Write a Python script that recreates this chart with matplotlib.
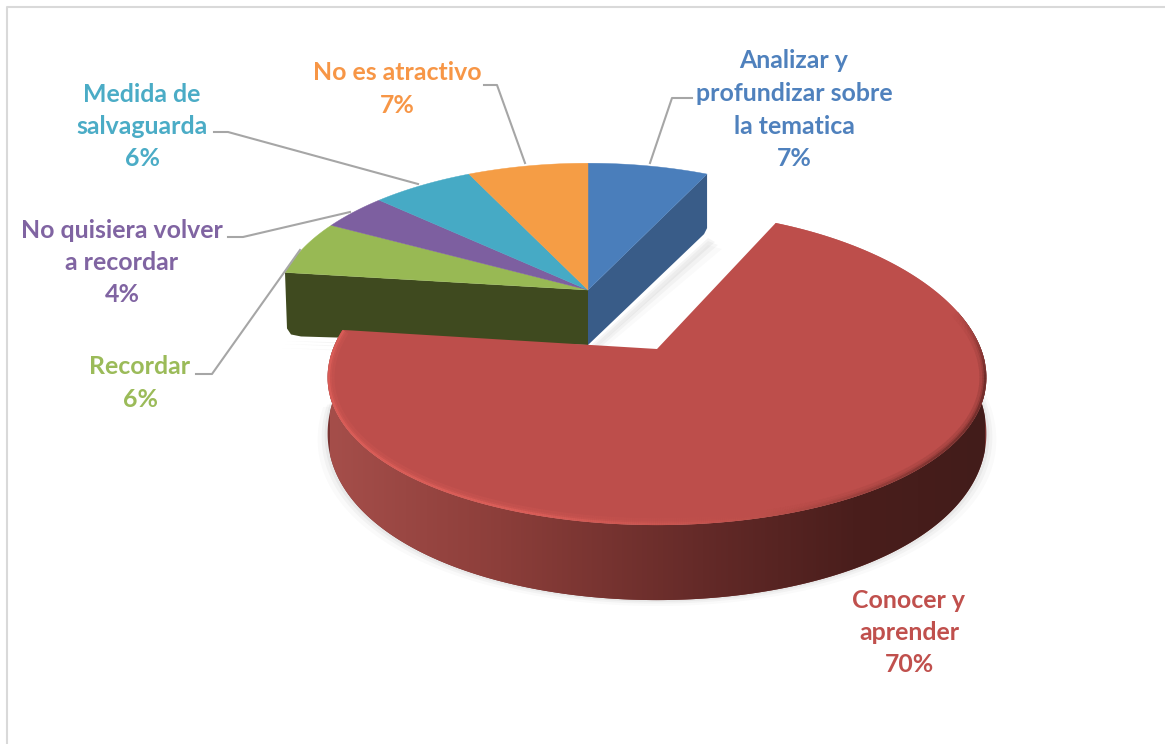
#!/usr/bin/env python3

import matplotlib
matplotlib.use("Agg")
import matplotlib.pyplot as plt
import numpy as np
from matplotlib.collections import LineCollection
from matplotlib.colors import LinearSegmentedColormap

labels = [
    ["Analizar y", "profundizar sobre", "la tematica"],
    ["Conocer y", "aprender"],
    ["Recordar"],
    ["No quisiera volver", "a recordar"],
    ["Medida de", "salvaguarda"],
    ["No es atractivo"],
]
values = [7, 70, 6, 4, 6, 7]
slice_colors = ["#4A7EBB", "#BD4E4B", "#98B954", "#7D5FA0", "#46AAC5", "#F59D45"]
text_colors = ["#4F81BD", "#C0504D", "#9BBB59", "#8064A2", "#4BACC6", "#F79646"]
label_x = [794, 909, 140, 122, 142, 397]
label_y = [61, 600, 367, 230, 94, 73]
leaders = [
    ([692, 672, 650], [98, 98, 163]),
    ([484, 497, 525], [85, 85, 163]),
    ([214, 228, 418], [132, 132, 184]),
    ([228, 243, 350], [237, 237, 212]),
    ([196, 212, 300], [374, 374, 250]),
]

plt.rcParams["font.family"] = ["Lato", "DejaVu Sans"]

fig = plt.figure(figsize=(11.65, 7.44), dpi=100)
ax = fig.add_axes([0, 0, 1, 1])
ax.set_xlim(0, 1165)
ax.set_ylim(744, 0)
ax.axis("off")

# outer frame, only top and left are visible
ax.plot([7, 7, 1165], [744, 7, 7], color="#D9D9D9", lw=1.5, zorder=1)

edges = np.cumsum([0] + values) / sum(values) * 2 * np.pi


def back_point(t):
    # back group of slices
    w = 1 + 0.12 * np.cos(t)
    return 588 + 310 * np.sin(t) / w, 290 - 142 * np.cos(t) / w


def red_point(t):
    # exploded slice, ellipse with perspective around its apex
    wx = 1 + 0.18 * np.cos(t)
    wy = 1 + 0.122 * np.cos(t)
    return 657 + 324 * np.sin(t) / wx, 349 - 154.6 * np.cos(t) / wy


def depth(t):
    return 52 - 23 * np.cos(t)


# soft shadows
for grow, alpha in zip([10, 6, 3], [0.02, 0.03, 0.04]):
    t = np.linspace(np.radians(80), np.radians(270), 200)
    x, y = red_point(t)
    ax.fill(
        657 + (x - 657) * (1 + grow / 330),
        y + depth(t) + grow * 0.6,
        color="k",
        alpha=alpha,
        lw=0,
        zorder=2,
    )
    ax.fill(
        [288 - grow, 588, 708, 712 + grow, 588],
        [338 + grow, 345 + grow, 235 + grow, 239 + grow, 352 + grow],
        color="k",
        alpha=alpha,
        lw=0,
        zorder=2,
    )

# cut walls of the back group
xb, yb = back_point(edges[1])
ax.fill([588, xb, xb, xb - 3, 588], [290, yb, yb + 54, yb + 60, 345], color="#395C88", lw=0, zorder=3)
xg, yg = back_point(edges[2])
ax.fill(
    [588, xg, xg + 2, xg + 6, xg + 16, 588],
    [290, yg, yg + 56, yg + 62, yg + 64, 345],
    color="#3F4A1F",
    lw=0,
    zorder=3,
)

# tops of the back group
for i in [0, 2, 3, 4, 5]:
    t = np.linspace(edges[i], edges[i + 1], 60)
    x, y = back_point(t)
    ax.fill(
        np.r_[588, x], np.r_[290, y], color=slice_colors[i], lw=0.3,
        ec=slice_colors[i], zorder=4,
    )

# red wall, shaded from left to right
t = np.linspace(edges[1], edges[2], 900)
x, y = red_point(t)
front = np.cos(t) < 0.25
wall_cmap = LinearSegmentedColormap.from_list(
    "wall",
    [
        (0.0, "#A54E4A"),
        (0.26, "#8C3E3A"),
        (0.57, "#642A28"),
        (0.8, "#4A1E1C"),
        (1.0, "#421C1A"),
    ],
)
wall = ax.fill(
    np.r_[x[front], x[front][::-1]],
    np.r_[y[front], (y + depth(t))[front][::-1]],
    color="#7A3432",
    lw=0,
    zorder=5,
)[0]
im = ax.imshow(
    np.linspace(0, 1, 256).reshape(1, -1),
    cmap=wall_cmap,
    extent=[330, 985, 620, 300],
    aspect="auto",
    zorder=5.5,
)
im.set_clip_path(wall)
ax.set_xlim(0, 1165)
ax.set_ylim(744, 0)

# red top
top = ax.fill(np.r_[657, x], np.r_[349, y], color=slice_colors[1], lw=0, zorder=6)[0]

# bevel along the rim, only on the inner side
rim_t = np.degrees(t)
rim_a = [25, 75, 100, 130, 165, 200, 278]
rim_r = np.interp(rim_t, rim_a, [189, 189, 90, 110, 190, 226, 226])
rim_g = np.interp(rim_t, rim_a, [78, 78, 36, 45, 80, 98, 98])
rim_b = np.interp(rim_t, rim_a, [75, 75, 34, 42, 75, 92, 92])
rim_c = np.c_[rim_r, rim_g, rim_b] / 255
points = np.c_[x, y].reshape(-1, 1, 2)
segments = np.concatenate([points[:-1], points[1:]], axis=1)
for lw, alpha in [(10, 0.18), (6, 0.25), (3.5, 0.7)]:
    rim = LineCollection(segments, colors=rim_c[:-1], linewidths=lw, alpha=alpha, capstyle="butt", zorder=7)
    ax.add_collection(rim)
    rim.set_clip_path(top)

# leader lines
for lx, ly in leaders:
    ax.plot(lx, ly, color="#A6A6A6", lw=1.5, zorder=8)

# labels
for i in range(len(values)):
    lines = labels[i] + [f"{values[i]}%"]
    for j in range(len(lines)):
        ax.text(
            label_x[i],
            label_y[i] + j * 32.5,
            lines[j],
            color=text_colors[i],
            fontsize=17.9,
            fontweight="bold",
            ha="center",
            va="center",
            zorder=9,
        )

fig.savefig("out.png", dpi=100)
